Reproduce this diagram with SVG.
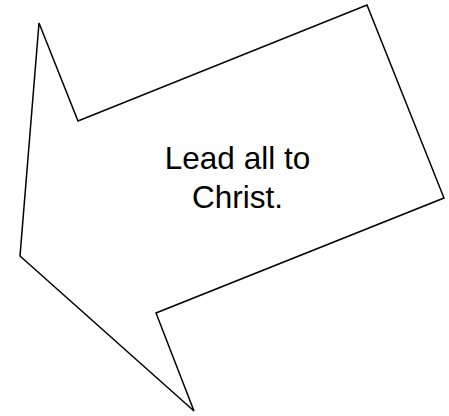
<svg xmlns="http://www.w3.org/2000/svg" width="449" height="416" viewBox="0 0 449 416">
<style>
.shape{fill:#fff;stroke:#000;stroke-width:1.5;stroke-linejoin:miter}
.lbl{font-family:"Liberation Sans",Arial,sans-serif;font-size:31.5px;fill:#000;text-anchor:middle}
</style>
<rect width="449" height="416" fill="#fff"/>
<g id="arrow">
<polygon class="shape" points="39,23 78,121 367,5 444,198 156,313 194,411 20,256"/>
<text class="lbl" x="237.5" y="169">Lead all to</text>
<text class="lbl" x="237.5" y="208">Christ.</text>
</g>
</svg>
